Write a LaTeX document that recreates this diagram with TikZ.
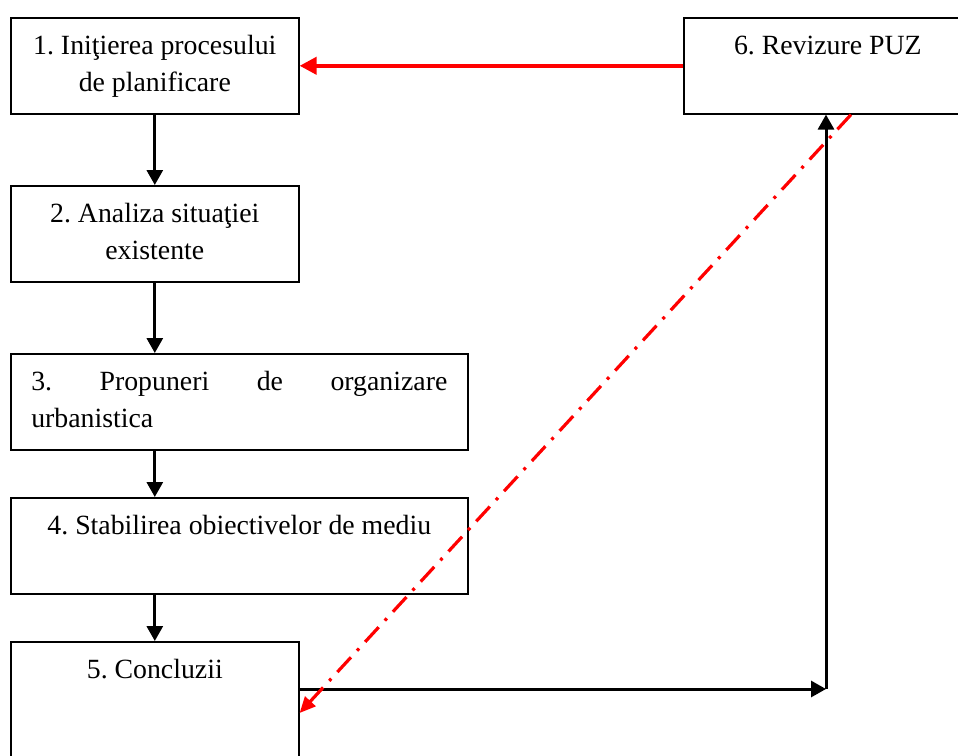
\documentclass[tikz,border=0pt]{standalone}
\usepackage{fontspec}
\setmainfont{Liberation Serif}
\usetikzlibrary{arrows.meta}
\frenchspacing
\newcommand{\boxtext}[3]{\parbox[t][#2][t]{#1}{\centering\rule{0pt}{37pt}#3}}
\begin{document}
\begin{tikzpicture}[x=1pt,y=-1pt,
  box/.style={draw, line width=1.6pt, anchor=north west, inner sep=0pt,
    font=\fontsize{27.8}{37}\selectfont},
  flow/.style={line width=3pt, -{Triangle[width=16pt,length=15pt]}},
  redflow/.style={draw=red, line width=4pt, -{Triangle[width=17pt,length=17pt]}},
  reddash/.style={draw=red, line width=3.2pt, dash pattern=on 20pt off 9pt on 3pt off 9pt,
    -{Triangle[width=14pt,length=16pt]}}]
\useasboundingbox (0,0) rectangle (958,755);
\clip (0,0) rectangle (958,755);

\node[box] (b1) at (10,17) {\boxtext{288pt}{96pt}{1. Iniţierea procesului\\de planificare}};
\node[box] (b2) at (10,185) {\boxtext{288pt}{96pt}{2. Analiza situaţiei\\existente}};
\node[box, inner xsep=20.5pt] (b3) at (10,353) {\parbox[t][96pt][t]{416pt}{\rule{0pt}{37pt}3.\hfill Propuneri\hfill de\hfill organizare\\urbanistica}};
\node[box] (b4) at (10,497) {\boxtext{457pt}{96pt}{4. Stabilirea obiectivelor de mediu}};
\node[box] (b5) at (10,641) {\boxtext{288pt}{130pt}{5. Concluzii}};
\node[box] (b6) at (683,17) {\boxtext{288pt}{96pt}{6. Revizure PUZ}};

\draw[flow] (b1.south) -- (b2.north);
\draw[flow] (b2.south) -- (b3.north -| b2.south);
\draw[flow] (b3.south -| b2.south) -- (b4.north -| b2.south);
\draw[flow] (b4.south -| b2.south) -- (b5.north);

\draw[redflow] (b6.west) -- (b1.east);

\coordinate (c) at (826,689);
\draw[flow] (b5.north east |- c) -- (c);
\draw[flow] (c) -- (c |- b6.south);

\draw[reddash] ([xshift=168pt]b6.south west) -- ([yshift=-72pt]b5.north east);
\end{tikzpicture}
\end{document}
